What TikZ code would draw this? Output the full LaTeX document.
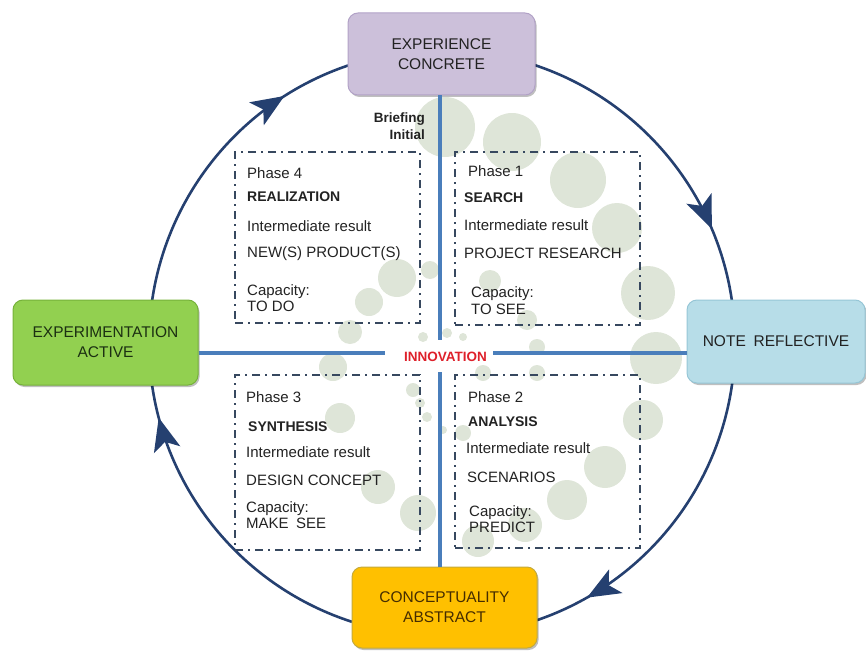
\documentclass[tikz,border=0pt]{standalone}
\usepackage{fontspec}
\setmainfont{Liberation Sans}
\usetikzlibrary{arrows.meta,decorations.markings,calc,shadows}
\definecolor{ringc}{RGB}{37,64,112}
\definecolor{axisc}{RGB}{74,126,187}
\definecolor{dashc}{RGB}{55,72,95}
\definecolor{bubc}{RGB}{214,222,206}
\definecolor{purf}{RGB}{204,192,218}
\definecolor{purd}{RGB}{178,162,199}
\definecolor{grnf}{RGB}{146,208,80}
\definecolor{grnd}{RGB}{118,178,58}
\definecolor{grnt}{RGB}{28,48,18}
\definecolor{bluf}{RGB}{183,221,232}
\definecolor{blud}{RGB}{150,198,214}
\definecolor{orf}{RGB}{255,192,0}
\definecolor{ord}{RGB}{196,170,60}
\definecolor{ort}{RGB}{70,45,0}
\definecolor{txtc}{RGB}{34,34,34}
\definecolor{innc}{RGB}{222,32,42}
\begin{document}
\begin{tikzpicture}[x=1pt,y=1pt,
  bigbox/.style={rounded corners=10pt, line width=1pt, align=center,
    font=\fontsize{15.5}{20}\selectfont, inner sep=0pt,
    drop shadow={shadow xshift=1.5pt, shadow yshift=-2pt, opacity=0.25, fill=black}},
  phasebox/.style={draw=dashc, line width=2.6pt,
    dash pattern=on 8pt off 5pt on 2pt off 5pt, inner sep=0pt},
  ptxt/.style={anchor=west, inner sep=0pt, text=txtc, font=\fontsize{15}{16.5}\selectfont, align=left},
  pbold/.style={ptxt, font=\fontsize{14}{16}\selectfont\bfseries},
  ring/.style={draw=ringc, line width=2.6pt},
  axisline/.style={draw=axisc, line width=4pt},
  arrowmid/.style={postaction={decorate}, decoration={markings,
    mark=at position #1 with {\arrow[ringc]{Stealth[length=33pt,width=27pt,inset=8pt]}}}},
  bub/.style={fill=bubc, opacity=0.8}
]
\useasboundingbox (0,0) rectangle (866,-650);

% bubbles
\foreach \bx/\by/\br in {
  445/127/30, 512/142/29, 578/180/28, 617/228/25, 648/293/27, 656/358/26,
  643/420/20, 605/467/21, 567/500/20, 525/525/17, 478/541/16,
  418/513/18, 378/487/17, 340/418/15, 333/367/14, 350/332/12, 369/302/14, 397/278/19,
  430/270/9, 490/281/11, 527/320/10, 537/347/8, 423/337/5, 447/333/5, 463/337/4,
  413/390/7, 420/403/5, 427/417/5, 443/430/4, 463/433/8, 483/373/8, 537/373/8}
  \fill[bub] (\bx,-\by) circle[radius=\br pt];

% ring centre
\coordinate (O) at (442,-343);

% outer cycle
\draw[ring, arrowmid=0.77] ($(O)+(71.5:293pt)$) arc[start angle=71.5, end angle=8.4, radius=293pt];
\draw[ring, arrowmid=0.83] ($(O)+(-7.8:293pt)$) arc[start angle=-7.8, end angle=-71.1, radius=293pt];
\draw[ring, arrowmid=0.9] ($(O)+(-107.9:293pt)$) arc[start angle=-107.9, end angle=-171.6, radius=293pt];
\draw[ring, arrowmid=0.78] ($(O)+(171.6:293pt)$) arc[start angle=171.6, end angle=108.7, radius=293pt];

% boxes
\node[bigbox, draw=purd, fill=purf, text=txtc, minimum width=187pt, minimum height=82pt] (top) at (441.5,-54) {EXPERIENCE\\CONCRETE};
\node[bigbox, draw=grnd, fill=grnf, text=grnt, minimum width=185pt, minimum height=85pt] (left) at (105.5,-342.5) {EXPERIMENTATION\\ACTIVE};
\node[bigbox, draw=blud, fill=bluf, text=txtc, minimum width=178pt, minimum height=83pt] (right) at (776,-341.5) {NOTE\enspace REFLECTIVE};
\node[bigbox, draw=ord, fill=orf, text=ort, minimum width=185pt, minimum height=81pt] (bot) at (444.5,-607.5) {CONCEPTUALITY\\ABSTRACT};

% axes
\coordinate (gN) at (440,-340);
\coordinate (gS) at (440,-372);
\coordinate (gW) at (385,-353);
\coordinate (gE) at (493,-353);
\draw[axisline] (gN |- top.south) -- (gN);
\draw[axisline] (gS) -- (gS |- bot.north);
\draw[axisline] (gW -| left.east) -- (gW);
\draw[axisline] (gE) -- (gE -| right.west);

\node[inner sep=0pt, text=innc, font=\fontsize{13.5}{16}\selectfont\bfseries] (innov) at (445.5,-357) {INNOVATION};
\node[anchor=east, align=right, inner sep=0pt, text=txtc, font=\fontsize{13.5}{17}\selectfont\bfseries] (brief) at (425,-126.5) {Briefing\\Initial};

% phase boxes
\node[phasebox, minimum width=185pt, minimum height=171pt] (ph4) at (327.5,-237.5) {};
\node[phasebox, minimum width=185pt, minimum height=173pt] (ph1) at (547.5,-238.5) {};
\node[phasebox, minimum width=185pt, minimum height=175pt] (ph3) at (327.5,-462.5) {};
\node[phasebox, minimum width=185pt, minimum height=173pt] (ph2) at (547.5,-461.5) {};

% phase 4
\node[ptxt] (p4a) at (247,-173) {Phase 4};
\node[pbold] (p4b) at (247,-197) {REALIZATION};
\node[ptxt] (p4c) at (247,-226) {Intermediate result};
\node[ptxt] (p4d) at (247,-254) {NEW(S) PRODUCT(S)};
\node[ptxt] (p4e) at (247,-298) {Capacity:\\TO DO};
% phase 1
\node[ptxt] (p1a) at (468,-171) {Phase 1};
\node[pbold] (p1b) at (464,-198) {SEARCH};
\node[ptxt] (p1c) at (464,-225) {Intermediate result};
\node[ptxt] (p1d) at (464,-253) {PROJECT RESEARCH};
\node[ptxt] (p1e) at (471,-300.5) {Capacity:\\TO SEE};
% phase 3
\node[ptxt] (p3a) at (246,-397) {Phase 3};
\node[pbold] (p3b) at (248,-427) {SYNTHESIS};
\node[ptxt] (p3c) at (246,-452) {Intermediate result};
\node[ptxt] (p3d) at (246,-480) {DESIGN CONCEPT};
\node[ptxt] (p3e) at (246,-515) {Capacity:\\MAKE\enspace SEE};
% phase 2
\node[ptxt] (p2a) at (468,-397) {Phase 2};
\node[pbold] (p2b) at (468,-422) {ANALYSIS};
\node[ptxt] (p2c) at (466,-448) {Intermediate result};
\node[ptxt] (p2d) at (467,-477) {SCENARIOS};
\node[ptxt] (p2e) at (469,-519) {Capacity:\\PREDICT};
\end{tikzpicture}
\end{document}
